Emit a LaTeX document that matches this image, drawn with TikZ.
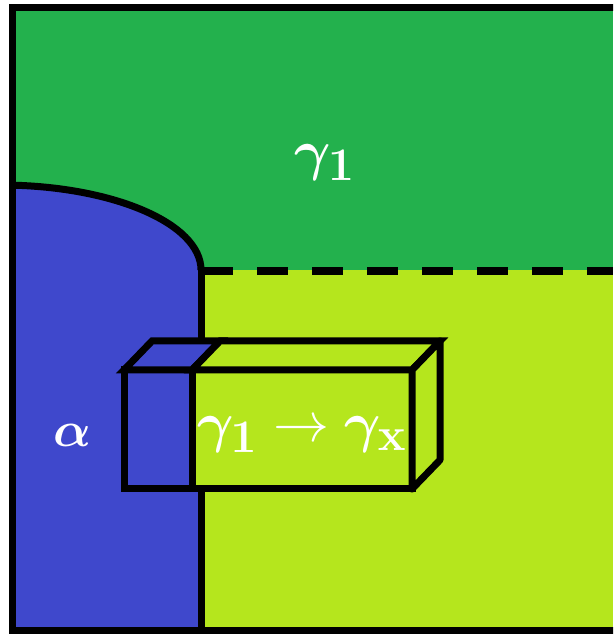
\documentclass[tikz,border=0pt]{standalone}
\usepackage{amsmath}
\usepackage{bm}
\definecolor{pgreen}{RGB}{35,177,77}
\definecolor{pblue}{RGB}{63,72,204}
\definecolor{plime}{RGB}{181,230,29}
\newcommand{\biglbl}[2]{\scalebox{#1}{\Huge #2}}
\tikzset{
  edge/.style={draw=black,line width=7pt,line join=miter},
  lbl/.style={text=white,inner sep=0pt},
}
\begin{document}
\begin{tikzpicture}[x=1pt,y=1pt]
\useasboundingbox (0,0) rectangle (613,634);
\clip (0,0) rectangle (613,634);
\begin{scope}
  \clip (12,3) rectangle (613,626);
  \fill[pgreen] (12,3) rectangle (613,626);
  \fill[plime] (201,3) rectangle (613,364);
  \fill[pblue] (201,3) -- (201,364) .. controls (201,411) and (111,449) .. (0,449) -- (0,3) -- cycle;
  \draw[line width=7pt] (201,364) .. controls (201,411) and (111,449) .. (0,449);
\end{scope}
\coordinate (vt) at (201,364);
\coordinate (vb) at (201,3);
\draw[line width=7pt] (vt) -- (vb);
\coordinate (dl) at (202,363);
\coordinate (dr) at (613,363);
\draw[line width=7.5pt,dash pattern=on 31pt off 24pt] (dl) -- (dr);
% frame
\draw[line width=7pt,line join=miter] (640,3) -- (12,3) -- (12,626) -- (640,626);
% box
\coordinate (a) at (124,145);
\coordinate (b) at (192,145);
\coordinate (c) at (412,145);
\coordinate (d) at (124,264);
\coordinate (e) at (192,264);
\coordinate (f) at (412,264);
\coordinate (g) at (152,293);
\coordinate (h) at (220,293);
\coordinate (i) at (440,293);
\coordinate (j) at (440,174);
\filldraw[pblue,edge] (a) -- (b) -- (e) -- (d) -- cycle;
\filldraw[plime,edge] (b) -- (c) -- (f) -- (e) -- cycle;
\filldraw[pblue,edge] (d) -- (e) -- (h) -- (g) -- cycle;
\filldraw[plime,edge] (e) -- (f) -- (i) -- (h) -- cycle;
\filldraw[plime,edge,line join=round] (f) -- (c) -- (j) -- (i) -- cycle;
% labels
\node[lbl] (g1) at (325,471) {\biglbl{2.25}{$\bm{\gamma}_{\mathbf{1}}$}};
\node[lbl] (al) at (72,199) {\biglbl{2.0}{$\bm{\alpha}$}};
\node[lbl] (tr) at (302,199) {\biglbl{2.25}{$\bm{\gamma}_{\mathbf{1}}\rightarrow\bm{\gamma}_{\mathbf{x}}$}};
\end{tikzpicture}
\end{document}
